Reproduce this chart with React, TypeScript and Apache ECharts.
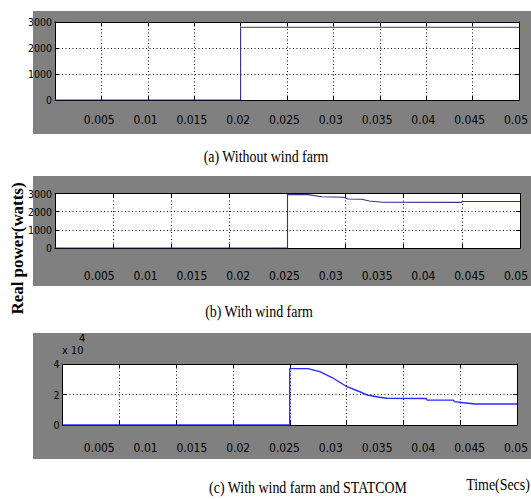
import React, { useEffect, useRef } from "react";
import * as echarts from "echarts";

// ---- data (time in seconds, real power in watts) ----
const T_A = [0, 0.02, 0.02, 0.05];
const P_A = [0, 0, 2800, 2800];

const T_B = [0, 0.025, 0.025, 0.0272, 0.0287, 0.031, 0.0315, 0.033, 0.0338, 0.0352, 0.0437, 0.0438, 0.05];
const P_B = [0, 0, 2950, 2940, 2820, 2790, 2700, 2680, 2590, 2520, 2510, 2560, 2560];

const T_C = [0, 0.025, 0.025, 0.027, 0.0283, 0.0296, 0.0313, 0.0327, 0.0335, 0.0349, 0.0357, 0.04, 0.0401, 0.043, 0.0431, 0.0441, 0.0454, 0.05];
const P_C = [0, 0, 37000, 37000, 35000, 31300, 25100, 21800, 19700, 18200, 17500, 17400, 16400, 16300, 15300, 14600, 13800, 13800];

// tick settings
const X_MAX = 0.05;
const X_LABEL_STEP = 0.005;
const X_GRID_STEP_A = 0.005;
const X_GRID_STEP_BC = 0.00625;
const Y_TICKS_AB = [0, 1000, 2000, 3000];
const Y_TICKS_C = [0, 20000, 40000];
const Y_SCALE_C = 10000;

const CAPTIONS = ["(a) Without wind farm", "(b) With wind farm", "(c) With wind farm and STATCOM"];
const Y_TITLE = "Real power(watts)";
const X_TITLE = "Time(Secs)";

const TICK_FONT = "'Liberation Sans Narrow', 'Arial Narrow', 'DejaVu Sans Condensed', sans-serif";
const SERIF = "'Liberation Serif', 'Times New Roman', serif";

function zip(t: number[], p: number[]) {
  return t.map((v, i) => [v, p[i]]);
}

export default function App() {
  const ref = useRef<HTMLDivElement>(null);
  useEffect(() => {
    document.body.style.margin = "0";
    if (!ref.current) return;
    const chart = echarts.init(ref.current, null, { renderer: "svg" });

    const panels = [
      { plot: { left: 55, top: 22, width: 464, height: 78 }, labelY: 120, step: X_GRID_STEP_A, yTicks: Y_TICKS_AB, scale: 1, data: zip(T_A, P_A), color: "#33338c" },
      { plot: { left: 55, top: 193.5, width: 465, height: 54.5 }, labelY: 276, step: X_GRID_STEP_BC, yTicks: Y_TICKS_AB, scale: 1, data: zip(T_B, P_B), color: "#33338c" },
      { plot: { left: 62.5, top: 364, width: 454.5, height: 61 }, labelY: 448, step: X_GRID_STEP_BC, yTicks: Y_TICKS_C, scale: Y_SCALE_C, data: zip(T_C, P_C), color: "#2a2aff" },
    ];

    const grid: any[] = [];
    const xAxis: any[] = [];
    const yAxis: any[] = [];
    const series: any[] = [];
    const dotted = { show: true, lineStyle: { color: "#000", width: 1, type: [1, 2.5] } };
    const axisLine = { show: true, onZero: false, lineStyle: { color: "#000", width: 1 } };
    const tick = { show: true, inside: true, length: 4, lineStyle: { color: "#000" } };

    panels.forEach((p, i) => {
      const gPlot = grid.length;
      grid.push({ ...p.plot, show: true, backgroundColor: "#fff", borderWidth: 0, containLabel: false });
      const gLab = grid.length;
      grid.push({ left: 53, width: 470, top: p.labelY - 11, height: 1, show: false });

      const yMin = p.yTicks[0];
      const yMax = p.yTicks[p.yTicks.length - 1];
      const yInt = p.yTicks[1] - p.yTicks[0];

      const xb = xAxis.length;
      xAxis.push({ type: "value", gridIndex: gPlot, position: "bottom", min: 0, max: X_MAX, interval: p.step, axisLine, axisTick: tick, axisLabel: { show: false }, splitLine: dotted });
      xAxis.push({ type: "value", gridIndex: gPlot, position: "top", min: 0, max: X_MAX, interval: p.step, axisLine, axisTick: tick, axisLabel: { show: false }, splitLine: { show: false } });
      xAxis.push({
        type: "value", gridIndex: gLab, position: "bottom", min: 0, max: X_MAX, interval: X_LABEL_STEP,
        axisLine: { show: false }, axisTick: { show: false }, splitLine: { show: false },
        axisLabel: {
          show: true, margin: 4, color: "#000", fontSize: 12, fontFamily: TICK_FONT, showMinLabel: false,
          formatter: (v: number) => (v === 0 ? "" : String(parseFloat(v.toFixed(4)))),
        },
      });

      const yl = yAxis.length;
      yAxis.push({
        type: "value", gridIndex: gPlot, position: "left", min: yMin, max: yMax, interval: yInt,
        axisLine, axisTick: tick, splitLine: dotted,
        axisLabel: { show: true, margin: 3, color: "#000", fontSize: 10.5, fontFamily: TICK_FONT, formatter: (v: number) => String(v / p.scale) },
      });
      yAxis.push({ type: "value", gridIndex: gPlot, position: "right", min: yMin, max: yMax, interval: yInt, axisLine, axisTick: tick, axisLabel: { show: false }, splitLine: { show: false } });
      yAxis.push({ type: "value", gridIndex: gLab, min: 0, max: 1, show: false });

      series.push({
        type: "line", xAxisIndex: xb, yAxisIndex: yl, data: p.data, showSymbol: false, symbol: "none",
        lineStyle: { color: p.color, width: i === 2 ? 1.4 : 1.1 }, itemStyle: { color: p.color }, z: 3,
      });
    });

    const grayRects = [
      { x: 33, y: 11, width: 498, height: 123 },
      { x: 33, y: 176, width: 498, height: 110 },
      { x: 33, y: 333, width: 498, height: 126 },
    ];
    const capPos = [
      { x: 266, y: 157 },
      { x: 259, y: 311.5 },
      { x: 308, y: 488 },
    ];

    const graphic: any[] = [
      ...grayRects.map((r) => ({ type: "rect", shape: r, style: { fill: "#808080" }, z: -10, silent: true })),
      ...CAPTIONS.map((c, i) => ({
        type: "text", x: capPos[i].x, y: capPos[i].y, scaleX: 0.87,
        style: { text: c, font: `16px ${SERIF}`, fill: "#000", textAlign: "center", textVerticalAlign: "middle" },
      })),
      {
        type: "text", x: 498, y: 485, scaleX: 0.87,
        style: { text: X_TITLE, font: `16px ${SERIF}`, fill: "#000", textAlign: "center", textVerticalAlign: "middle" },
      },
      {
        type: "text", x: 18, y: 248.5, rotation: Math.PI / 2, scaleX: 1.06,
        style: { text: Y_TITLE, font: `bold 16px ${SERIF}`, fill: "#000", textAlign: "center", textVerticalAlign: "middle" },
      },
      {
        type: "text", x: 62, y: 350,
        style: { text: "x 10", font: `11px ${TICK_FONT}`, fill: "#000", textAlign: "left", textVerticalAlign: "middle" },
      },
      {
        type: "text", x: 79, y: 338,
        style: { text: "4", font: `11px ${TICK_FONT}`, fill: "#000", textAlign: "left", textVerticalAlign: "middle" },
      },
    ];

    chart.setOption({
      animation: false,
      backgroundColor: "#fff",
      grid,
      xAxis,
      yAxis,
      series,
      graphic,
    });
    return () => chart.dispose();
  }, []);
  return <div ref={ref} style={{ width: 531, height: 499 }} />;
}
